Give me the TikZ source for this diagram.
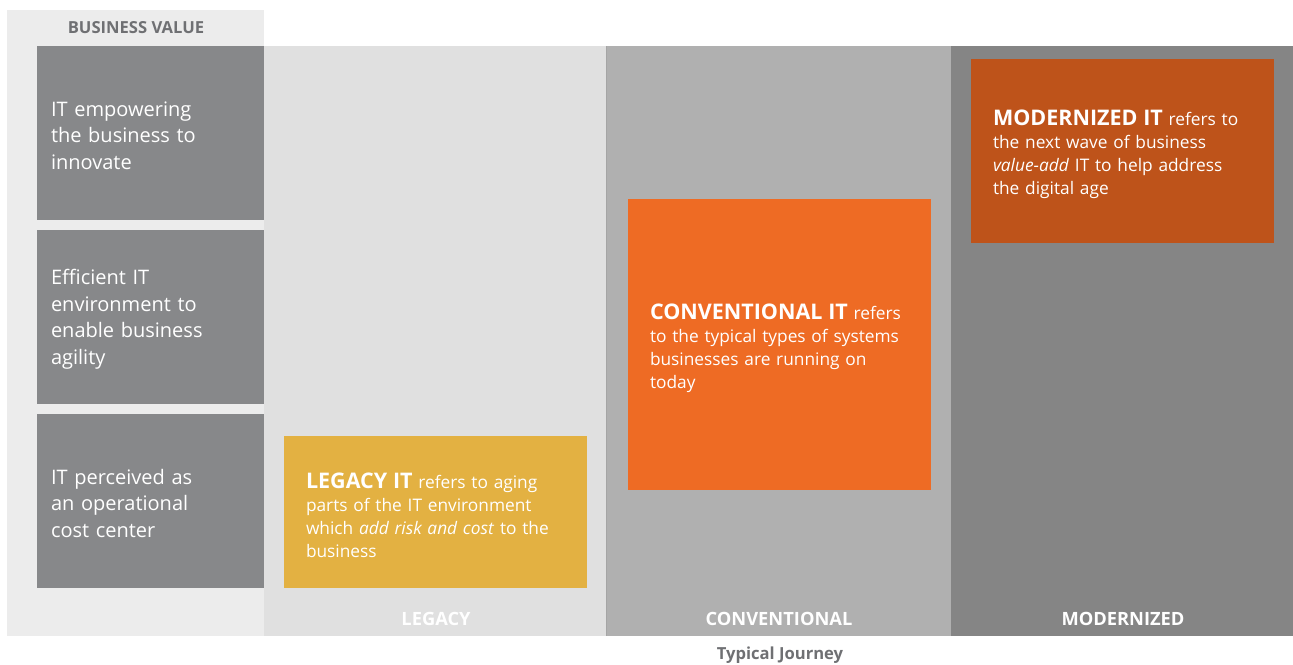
\documentclass[tikz,border=0pt]{standalone}
\usepackage{fontspec}
\setmainfont{Open Sans}
\usepackage{tikz}
\definecolor{panel}{RGB}{236, 236, 236}
\definecolor{valuegray}{RGB}{135, 136, 138}
\definecolor{legacybg}{RGB}{224, 224, 224}
\definecolor{convbg}{RGB}{176, 176, 176}
\definecolor{modbg}{RGB}{133, 133, 133}
\definecolor{seam}{RGB}{165, 165, 165}
\definecolor{legacy}{RGB}{227, 177, 66}
\definecolor{conv}{RGB}{238, 107, 36}
\definecolor{modern}{RGB}{190, 83, 26}
\definecolor{caption}{RGB}{111, 112, 115}
\newcommand{\itname}[1]{\rule{0pt}{23pt}{\fontsize{21.5}{23}\selectfont\bfseries #1}}
\newcommand{\lift}{\rule{0pt}{20pt}}

\begin{document}
\begin{tikzpicture}[x=1pt, y=-1pt,
    valuebox/.style={fill=valuegray, text=white, minimum width=227, minimum height=174,
      inner xsep=14, inner ysep=0, text width=199, align=left,
      font=\fontsize{20}{26.5}\selectfont},
    itbox/.style={text=white, minimum width=303, inner xsep=22, inner ysep=0,
      text width=259, align=left, font=\fontsize{17.3}{23}\selectfont},
    collabel/.style={text=white, font=\fontsize{18.3}{20}\selectfont\bfseries},
    headlabel/.style={text=caption, font=\fontsize{16.6}{18}\selectfont\bfseries}]
  \useasboundingbox (0, 0) rectangle (1293, 664);
  \fill[white] (0, 0) rectangle (1293, 664);

  \fill[panel] (7, 10) rectangle (264, 636);
  \node[headlabel] (bizvalue) at (136, 28) {BUSINESS VALUE};

  \foreach \l/\u/\c in {264/606/legacybg, 606/951/convbg, 951/1293/modbg} {
    \fill[\c] (\l, 46) rectangle (\u, 636);
  }
  \draw[seam, line width=1] (606, 46) -- (606, 636);

  \node[valuebox] (innovate) at (150.5, 133) {\lift IT empowering\\the business to\\innovate};
  \node[valuebox] (agility) at (150.5, 317) {\lift Efficient IT\\environment to\\enable business\\agility};
  \node[valuebox] (costcenter) at (150.5, 501) {\lift IT perceived as\\an operational\\cost center};

  \node[itbox, fill=legacy, minimum height=152] (legacybox) at (435.5, 512)
    {\itname{LEGACY IT} refers to aging\\parts of the IT environment\\which \textit{add risk and cost} to the\\business};
  \node[itbox, fill=conv, minimum height=291] (convbox) at (779.5, 344.5)
    {\itname{CONVENTIONAL IT} refers\\to the typical types of systems\\businesses are running on\\today};
  \node[itbox, fill=modern, minimum height=184] (modbox) at (1122.5, 151)
    {\itname{MODERNIZED IT} refers to\\the next wave of business\\\textit{value-add} IT to help address\\the digital age};

  \node[collabel] (legacylabel) at (436, 619) {LEGACY};
  \node[collabel] (convlabel) at (779, 619) {CONVENTIONAL};
  \node[collabel] (modlabel) at (1123, 619) {MODERNIZED};
  \node[headlabel] (journey) at (780, 655) {Typical Journey};
\end{tikzpicture}
\end{document}
